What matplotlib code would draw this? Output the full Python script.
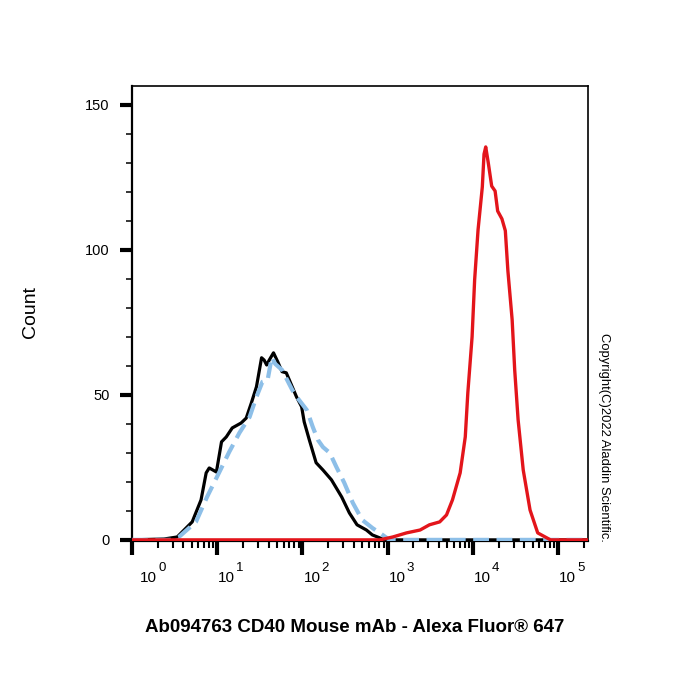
import numpy as np
import matplotlib
matplotlib.use("Agg")
import matplotlib.pyplot as plt
from matplotlib.ticker import LogLocator, NullFormatter, MultipleLocator

plt.rcParams['font.family'] = ['Liberation Sans', 'DejaVu Sans']

# histogram traces, x given as log10(intensity), y = count
black_lx = [0.0, 0.376, 0.53, 0.706, 0.81, 0.87, 0.906, 0.99, 1.05, 1.106, 1.176, 1.28,
            1.34, 1.40, 1.46, 1.52, 1.55, 1.58, 1.61, 1.66, 1.71, 1.76, 1.81, 1.93,
            1.99, 2.02, 2.08, 2.16, 2.24, 2.34, 2.46, 2.55, 2.64, 2.75, 2.82, 2.94,
            3.02, 5.35]
black_y = [0, 0.3, 1.0, 6.2, 13.8, 23.1, 24.8, 23.4, 33.8, 35.5, 38.6, 40.3,
           42.0, 47.2, 52.8, 62.8, 62.0, 60.3, 62.0, 64.5, 61.4, 58.0, 57.6, 49.3,
           45.9, 40.7, 34.5, 26.6, 24.1, 20.7, 14.8, 9.3, 5.2, 3.4, 1.7, 0.3,
           0, 0]

blue_lx = [0.0, 0.45, 0.55, 0.75, 0.88, 1.02, 1.14, 1.26, 1.38, 1.46, 1.53, 1.59,
           1.64, 1.68, 1.76, 1.88, 1.94, 2.05, 2.08, 2.12, 2.18, 2.24, 2.32, 2.40,
           2.49, 2.59, 2.70, 2.82, 2.94, 3.02, 5.35]
blue_y = [0, 0, 1.0, 6.2, 14.8, 23.1, 30.3, 36.9, 42.4, 49.3, 54.5, 55.0,
          63.0, 60.7, 58.6, 51.7, 49.0, 44.8, 42.4, 39.0, 34.5, 32.0, 30.0, 25.0,
          19.7, 12.8, 6.9, 4.1, 1.7, 0, 0]

red_lx = [0.0, 2.906, 3.06, 3.22, 3.38, 3.49, 3.61, 3.69, 3.76, 3.85, 3.91, 3.94,
          3.99, 4.02, 4.06, 4.11, 4.13, 4.15, 4.18, 4.22, 4.26, 4.29, 4.34, 4.38,
          4.41, 4.46, 4.49, 4.53, 4.59, 4.67, 4.76, 4.91, 5.35]
red_y = [0, 0, 1.0, 2.4, 3.4, 5.2, 6.2, 8.6, 13.8, 23.1, 35.5, 50.7,
         70.0, 89.7, 106.9, 121.7, 133.0, 135.5, 130.0, 122.0, 120.3, 113.4, 110.7, 106.6,
         92.8, 75.9, 58.6, 41.4, 24.1, 10.3, 2.4, 0, 0]

decades = [0, 1, 2, 3, 4, 5]
y_major = [0, 50, 100, 150]

fig = plt.figure(figsize=(7, 7), dpi=100)
ax = fig.add_axes([0.1886, 0.2271, 0.6514, 0.6500])

ax.plot(10 ** np.array(black_lx), black_y, color='black', lw=2.3, solid_joinstyle='round', zorder=3)
ax.plot(10 ** np.array(blue_lx), blue_y, color='#8DBFE8', lw=3.0, dashes=(3.8, 1.8), zorder=4)
ax.plot(10 ** np.array(red_lx), red_y, color='#E3151B', lw=2.4, solid_joinstyle='round', zorder=5)

ax.set_xscale('log')
ax.set_xlim(1, 10 ** 5.35)
ax.set_ylim(-0.4, 156.5)

ax.xaxis.set_major_locator(LogLocator(base=10, numticks=10))
ax.xaxis.set_minor_locator(LogLocator(base=10, subs=np.arange(2, 10), numticks=20))
ax.xaxis.set_major_formatter(NullFormatter())
ax.xaxis.set_minor_formatter(NullFormatter())
ax.tick_params(axis='x', which='major', length=10, width=3, direction='out')
ax.tick_params(axis='x', which='minor', length=5, width=1.5, direction='out')

# decade labels: "10" starts at the tick, the exponent sits high to the right
# (the first one is pushed a bit further right in the original)
for d in decades:
    shift = 6 if d == 0 else 0.7
    ax.annotate('10', xy=(10 ** d, 0), xycoords=('data', 'axes fraction'),
                xytext=(shift, -29.5), textcoords='offset points',
                ha='left', va='baseline', fontsize=11)
    ax.annotate(str(d), xy=(10 ** d, 0), xycoords=('data', 'axes fraction'),
                xytext=(shift + 13.0, -21.5), textcoords='offset points',
                ha='left', va='baseline', fontsize=9.5)

ax.set_yticks(y_major)
ax.yaxis.set_minor_locator(MultipleLocator(10))
ax.tick_params(axis='y', which='major', length=9, width=3, direction='out', labelsize=10.5, pad=7)
ax.tick_params(axis='y', which='minor', length=4.5, width=1.1, direction='out')

for side in ['left', 'bottom']:
    ax.spines[side].set_linewidth(1.6)
for side in ['top', 'right']:
    ax.spines[side].set_linewidth(1.2)

fig.text(30 / 700, 1 - 312 / 700, 'Count', rotation=90, ha='center', va='center', fontsize=14)
fig.text(355 / 700, 1 - 628 / 700, 'Ab094763 CD40 Mouse mAb - Alexa Fluor® 647',
         ha='center', va='center', fontsize=13.5, fontweight='bold')
fig.text(604 / 700, 1 - 437 / 700, 'Copyright(C)2022 Aladdin Scientific.', rotation=-90,
         ha='center', va='center', fontsize=9.4)

fig.savefig('out.png', dpi=100)
